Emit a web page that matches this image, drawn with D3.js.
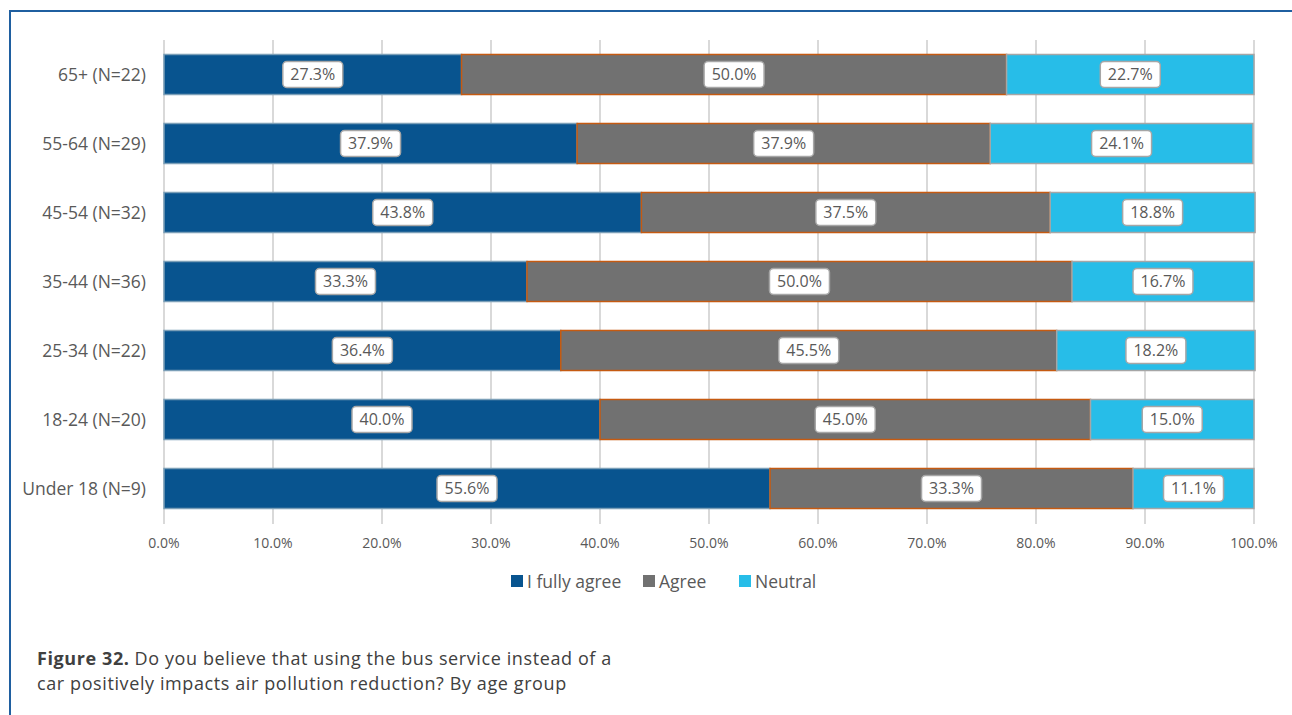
<!DOCTYPE html>
<html>
<head>
<meta charset="utf-8">
<script src="https://cdn.jsdelivr.net/npm/d3@7"></script>
<style>
  body { margin: 0; background: #fff; }
  svg { display: block; font-family: "Open Sans", "Noto Sans", sans-serif; }
</style>
</head>
<body>
<div id="chart"></div>
<script>
// data, top to bottom
const groups = ['65+ (N=22)', '55-64 (N=29)', '45-54 (N=32)', '35-44 (N=36)', '25-34 (N=22)', '18-24 (N=20)', 'Under 18 (N=9)'];
const seriesNames = ['I fully agree', 'Agree', 'Neutral'];
const fullyAgree = [27.3, 37.9, 43.8, 33.3, 36.4, 40.0, 55.6];
const agree = [50.0, 37.9, 37.5, 50.0, 45.5, 45.0, 33.3];
const neutral = [22.7, 24.1, 18.8, 16.7, 18.2, 15.0, 11.1];
const xTicks = [0, 10, 20, 30, 40, 50, 60, 70, 80, 90, 100];

const colors = ['#08548f', '#717171', '#27bde8'];
const strokes = ['#7b9fb8', '#c55a11', '#a6a6a6'];

const W = 1292, H = 715;
const svg = d3.select('#chart').append('svg')
  .attr('width', W).attr('height', H);

// frame
svg.append('path')
  .attr('d', `M10,${H} L10,11 L${W},11`)
  .attr('fill', 'none').attr('stroke', '#1f5fa0').attr('stroke-width', 2);

const x = d3.scaleLinear().domain([0, 100]).range([164, 1254]);
const y = d3.scaleBand().domain(groups).range([40, 523]).paddingInner(0.42).paddingOuter(0.21);

// gridlines
svg.append('g').selectAll('line').data(xTicks).join('line')
  .attr('x1', d => x(d)).attr('x2', d => x(d))
  .attr('y1', 40).attr('y2', 524)
  .attr('stroke', '#d9d9d9').attr('stroke-width', 2);

// x axis labels
svg.append('g').selectAll('text').data(xTicks).join('text')
  .attr('x', d => x(d)).attr('y', 548)
  .attr('text-anchor', 'middle')
  .attr('font-size', 14).attr('fill', '#595959')
  .text(d => d.toFixed(1) + '%');

// y labels
svg.append('g').selectAll('text').data(groups).join('text')
  .attr('x', 146).attr('y', d => y(d) + y.bandwidth() / 2 + 6)
  .attr('text-anchor', 'end')
  .attr('font-size', 17.5).attr('fill', '#595959')
  .text(d => d);

const rows = groups.map((g, i) => ({ g, vals: [fullyAgree[i], agree[i], neutral[i]] }));
const stacked = d3.stack().keys([0, 1, 2]).value((d, k) => d.vals[k])(rows);

const layers = svg.append('g').selectAll('g').data(stacked).join('g')
  .attr('fill', (d, i) => colors[i])
  .attr('stroke', (d, i) => strokes[i])
  .attr('stroke-width', 1.5);

layers.selectAll('rect').data(d => d).join('rect')
  .attr('x', d => x(d[0]))
  .attr('y', d => y(d.data.g))
  .attr('width', d => x(d[1]) - x(d[0]))
  .attr('height', y.bandwidth());

// data labels
const labels = svg.append('g').selectAll('g')
  .data(stacked.flatMap(s => s.map(d => d)))
  .join('g')
  .attr('transform', d => `translate(${(x(d[0]) + x(d[1])) / 2},${y(d.data.g) + y.bandwidth() / 2})`);

labels.append('rect')
  .attr('x', -30).attr('y', -13).attr('width', 60).attr('height', 26)
  .attr('rx', 4)
  .attr('fill', '#fff').attr('stroke', '#a6a6a6').attr('stroke-width', 1.5);

labels.append('text')
  .attr('text-anchor', 'middle').attr('y', 5.5)
  .attr('font-size', 16).attr('fill', '#595959')
  .text(d => (d[1] - d[0]).toFixed(1) + '%');

// legend
const legend = svg.append('g').attr('transform', 'translate(511,582)');
const legX = [0, 132, 228];
const items = legend.selectAll('g').data(seriesNames).join('g')
  .attr('transform', (d, i) => `translate(${legX[i]},0)`);
items.append('rect')
  .attr('x', 0).attr('y', -7).attr('width', 12).attr('height', 12)
  .attr('fill', (d, i) => colors[i]);
items.append('text')
  .attr('x', 16).attr('y', 6)
  .attr('font-size', 17.5).attr('fill', '#595959')
  .text(d => d);

// caption (bold prefix as its own text, rest placed after it)
const capG = svg.append('g').attr('font-size', 18).attr('letter-spacing', 0.6).attr('fill', '#404040');
const bold = capG.append('text').attr('x', 37).attr('y', 665)
  .attr('font-weight', 'bold').text('Figure 32.');
const bw = bold.node().getComputedTextLength();
capG.append('text').attr('x', 37 + bw + 5).attr('y', 665)
  .text('Do you believe that using the bus service instead of a');
capG.append('text').attr('x', 37).attr('y', 690)
  .text('car positively impacts air pollution reduction? By age group');
</script>
</body>
</html>
